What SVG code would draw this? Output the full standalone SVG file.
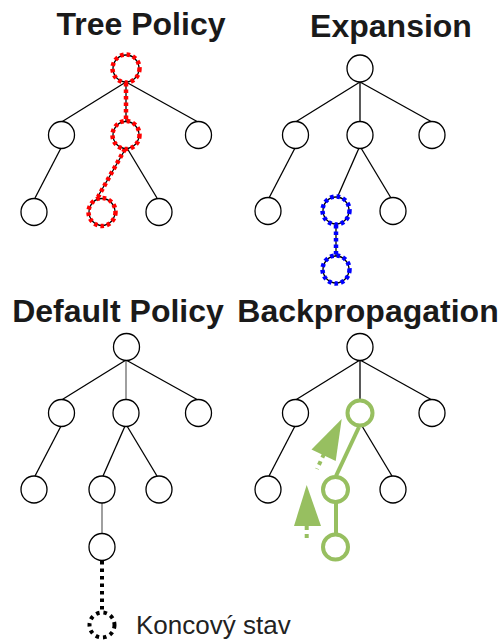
<svg xmlns="http://www.w3.org/2000/svg" width="501" height="641" viewBox="0 0 501 641">
<defs>
<style>
.title{font-family:"Liberation Sans",Arial,sans-serif;font-weight:bold;font-size:32px;fill:#1a1a1a;text-anchor:middle}
.lbl{font-family:"Liberation Sans",Arial,sans-serif;font-size:26px;fill:#222}
.n{fill:#fff;stroke:#000;stroke-width:1.3}
.e{stroke:#000;stroke-width:1.3;fill:none}
.eg{stroke:#888;stroke-width:1.6;fill:none}
.red{fill:none;stroke:#f00;stroke-width:4.5;stroke-dasharray:3.5 3}
.blue{fill:none;stroke:#00f;stroke-width:4.5;stroke-dasharray:3.5 3}
.blk{fill:none;stroke:#000;stroke-width:4;stroke-dasharray:3.5 4}
.gn{fill:#fff;stroke:#97bf60;stroke-width:4}
.ge{stroke:#97bf60;stroke-width:4;fill:none}
.ga{fill:#97bf60}
.gd{stroke:#97bf60;stroke-width:4;stroke-dasharray:4 4;fill:none}
</style>
</defs>
<rect width="501" height="641" fill="#fff"/>
<g id="titles">
<text class="title" x="141" y="35">Tree Policy</text>
<text class="title" x="391" y="37">Expansion</text>
<text class="title" x="118" y="322">Default Policy</text>
<text class="title" x="368" y="322">Backpropagation</text>
</g>
<g id="connectors">
<line class="e" x1="126" y1="82" x2="61.5" y2="122"/>
<line class="e" x1="126" y1="82" x2="198" y2="122"/>
<line class="e" x1="126" y1="82" x2="126" y2="122"/>
<line class="red" x1="126" y1="83" x2="126" y2="121"/>
<line class="e" x1="61" y1="148" x2="35" y2="198"/>
<line class="e" x1="126" y1="148" x2="97" y2="198"/>
<line class="red" x1="125" y1="149" x2="98" y2="197"/>
<line class="e" x1="127" y1="148" x2="157" y2="198"/>
<line class="e" x1="360" y1="82" x2="295.5" y2="122"/>
<line class="e" x1="360" y1="82" x2="432" y2="122"/>
<line class="e" x1="360" y1="82" x2="360" y2="122"/>
<line class="e" x1="295" y1="148" x2="269" y2="198"/>
<line class="e" x1="359" y1="148" x2="337" y2="198"/>
<line class="e" x1="361" y1="148" x2="391" y2="198"/>
<line class="e" x1="336" y1="224" x2="336" y2="256"/>
<line class="blue" x1="336" y1="225" x2="336" y2="255"/>
<line class="e" x1="126" y1="360" x2="61.5" y2="400"/>
<line class="e" x1="126" y1="360" x2="198" y2="400"/>
<line class="eg" x1="126" y1="360" x2="126" y2="400"/>
<line class="e" x1="61" y1="426" x2="35" y2="476"/>
<line class="e" x1="125" y1="426" x2="103" y2="476"/>
<line class="e" x1="127" y1="426" x2="157" y2="476"/>
<line class="eg" x1="102" y1="503" x2="102" y2="533"/>
<line class="blk" x1="102" y1="561" x2="102" y2="612"/>
<line class="e" x1="360" y1="360" x2="295.5" y2="400"/>
<line class="e" x1="360" y1="360" x2="432" y2="400"/>
<line class="e" x1="360" y1="360" x2="360" y2="400"/>
<line class="e" x1="295" y1="426" x2="269" y2="476"/>
<line class="e" x1="362" y1="426" x2="392" y2="476"/>
<line class="ge" x1="359" y1="427" x2="336" y2="476"/>
<line class="ge" x1="336" y1="503" x2="336" y2="534"/>
<polygon class="ga" points="341.7,419 311.5,449.5 335.7,461"/>
<line class="gd" x1="324" y1="454" x2="317" y2="469"/>
<polygon class="ga" points="306.7,485 294,526 321,526"/>
<line class="gd" x1="306.7" y1="526" x2="306.7" y2="542"/>
</g>
<g id="tp-root"><ellipse class="n" cx="126" cy="68.5" rx="13" ry="13.5"/><ellipse class="red" cx="126" cy="68.5" rx="13.5" ry="14"/></g>
<g id="tp-a"><ellipse class="n" cx="61.5" cy="135" rx="13" ry="13.5"/></g>
<g id="tp-b"><ellipse class="n" cx="126" cy="135" rx="13" ry="13.5"/><ellipse class="red" cx="126" cy="135" rx="13.5" ry="14"/></g>
<g id="tp-c"><ellipse class="n" cx="198.5" cy="135" rx="13" ry="13.5"/></g>
<g id="tp-d"><ellipse class="n" cx="34" cy="212" rx="13" ry="13.5"/></g>
<g id="tp-e"><ellipse class="n" cx="102" cy="212" rx="13" ry="13.5"/><ellipse class="red" cx="102" cy="212" rx="13.5" ry="14"/></g>
<g id="tp-f"><ellipse class="n" cx="159" cy="212" rx="13" ry="13.5"/></g>
<g id="ex-root"><ellipse class="n" cx="360" cy="68.5" rx="13" ry="13.5"/></g>
<g id="ex-a"><ellipse class="n" cx="295.5" cy="135" rx="13" ry="13.5"/></g>
<g id="ex-b"><ellipse class="n" cx="360" cy="135" rx="13" ry="13.5"/></g>
<g id="ex-c"><ellipse class="n" cx="432" cy="135" rx="13" ry="13.5"/></g>
<g id="ex-d"><ellipse class="n" cx="268" cy="211" rx="13" ry="13.5"/></g>
<g id="ex-e"><ellipse class="n" cx="336" cy="210.5" rx="13" ry="13.5"/><ellipse class="blue" cx="336" cy="210.5" rx="13.5" ry="14"/></g>
<g id="ex-f"><ellipse class="n" cx="393" cy="211" rx="13" ry="13.5"/></g>
<g id="ex-g"><ellipse class="n" cx="336" cy="269.5" rx="13" ry="13.5"/><ellipse class="blue" cx="336" cy="269.5" rx="13.5" ry="14"/></g>
<g id="dp-root"><ellipse class="n" cx="126.5" cy="347" rx="13" ry="13.5"/></g>
<g id="dp-a"><ellipse class="n" cx="61.5" cy="413" rx="13" ry="13.5"/></g>
<g id="dp-b"><ellipse class="n" cx="126" cy="413" rx="13" ry="13.5"/></g>
<g id="dp-c"><ellipse class="n" cx="198.5" cy="413" rx="13" ry="13.5"/></g>
<g id="dp-d"><ellipse class="n" cx="34" cy="489.5" rx="13" ry="13.5"/></g>
<g id="dp-e"><ellipse class="n" cx="102" cy="489.5" rx="13" ry="13.5"/></g>
<g id="dp-f"><ellipse class="n" cx="159" cy="489.5" rx="13" ry="13.5"/></g>
<g id="dp-g"><ellipse class="n" cx="102" cy="547" rx="13" ry="13.5"/></g>
<g id="dp-term"><ellipse class="blk" cx="102" cy="625" rx="12.5" ry="12.5"/></g>
<text class="lbl" x="136" y="634">Koncový stav</text>
<g id="bp-root"><ellipse class="n" cx="360" cy="347" rx="13" ry="13.5"/></g>
<g id="bp-a"><ellipse class="n" cx="295.5" cy="413" rx="13" ry="13.5"/></g>
<g id="bp-b"><ellipse class="gn" cx="360" cy="413" rx="12.5" ry="12.5"/></g>
<g id="bp-c"><ellipse class="n" cx="432" cy="413" rx="13" ry="13.5"/></g>
<g id="bp-d"><ellipse class="n" cx="268" cy="489.5" rx="13" ry="13.5"/></g>
<g id="bp-e"><ellipse class="gn" cx="335.5" cy="489.5" rx="12.5" ry="12.5"/></g>
<g id="bp-f"><ellipse class="n" cx="393" cy="489.5" rx="13" ry="13.5"/></g>
<g id="bp-g"><ellipse class="gn" cx="335.5" cy="547" rx="12.5" ry="12.5"/></g>
</svg>
